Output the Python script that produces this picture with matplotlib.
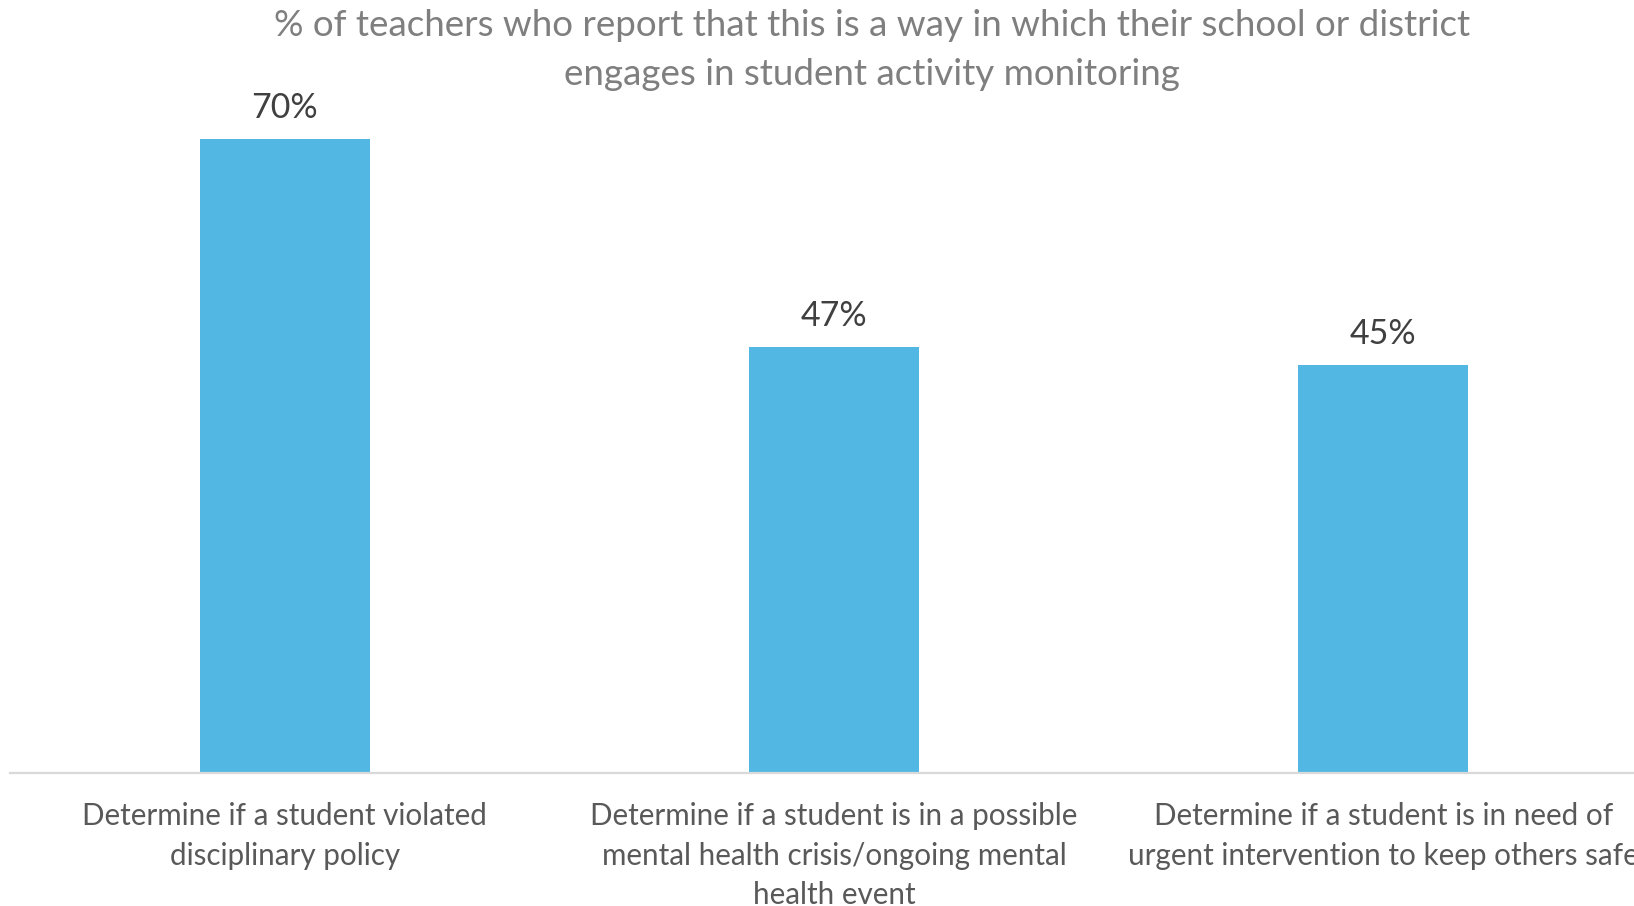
import matplotlib.pyplot as plt
import numpy as np

categories = [
    "Determine if a student violated\ndisciplinary policy",
    "Determine if a student is in a possible\nmental health crisis/ongoing mental\nhealth event",
    "Determine if a student is in need of\nurgent intervention to keep others safe",
]
values = [70, 47, 45]
title = ("% of teachers who report that this is a way in which their school or district\n"
         "engages in student activity monitoring")

plt.rcParams['font.family'] = ['Lato', 'DejaVu Sans']

fig = plt.figure(figsize=(16.34, 9.06), dpi=100)
# axes runs a little past the right edge, so the last label gets clipped
ax = fig.add_axes([10 / 1634, 133 / 906, 1648 / 1634, 725 / 906])

x = np.arange(len(values))
ax.bar(x, values, width=0.31, color='#53B7E3', zorder=2)
for xi, v in zip(x, values):
    ax.text(xi, v + 1.65, f"{v}%", ha='center', va='bottom', fontsize=24.5, color='#404040')

ax.set_xlim(-0.5, 2.5)
ax.set_ylim(0, 80)
ax.set_xticks(x)
ax.set_xticklabels(categories, fontsize=21.3, color='#595959', linespacing=1.5)
ax.tick_params(axis='x', length=0, pad=21)
ax.set_yticks([])
for side in ['top', 'right', 'left']:
    ax.spines[side].set_visible(False)
ax.spines['bottom'].set_color('#D9D9D9')
ax.spines['bottom'].set_linewidth(1.6)

fig.text(872 / 1634, 1 - 50 / 906, title, ha='center', va='center', fontsize=26.5,
         color='#7F7F7F', linespacing=1.6)

fig.savefig('out.png', dpi=100)
